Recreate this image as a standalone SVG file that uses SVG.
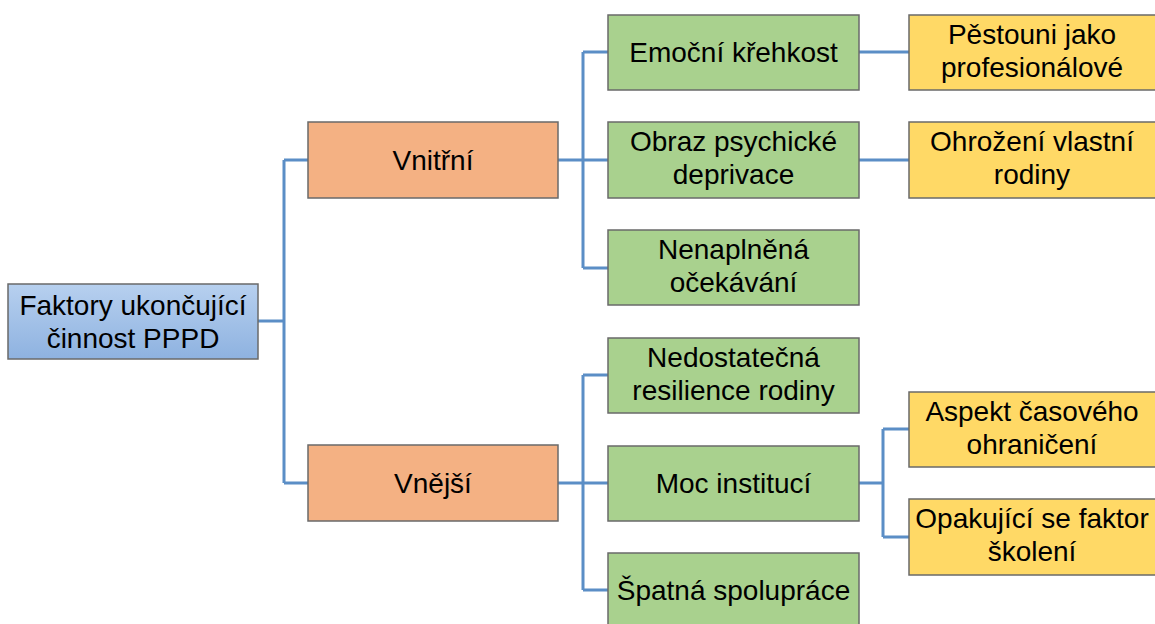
<svg xmlns="http://www.w3.org/2000/svg" width="1155" height="624" viewBox="0 0 1155 624">
<defs>
<linearGradient id="gb" x1="0" y1="0" x2="0" y2="1">
<stop offset="0" stop-color="#b7d0ef"/>
<stop offset="1" stop-color="#8eb2e0"/>
</linearGradient>
</defs>
<style>
.n{stroke:#6a6a6a;stroke-width:1.5}
.root{fill:url(#gb)}
.o{fill:#f4b183}
.g{fill:#a9d18e}
.y{fill:#ffd966}
text{font-family:"Liberation Sans",Arial,sans-serif;font-size:28px;fill:#000;text-anchor:middle}
#connectors path{fill:none;stroke:#5b8ec6;stroke-width:3}
</style>
<rect width="1155" height="624" fill="#fff"/>
<g id="connectors">
<path d="M258,321 H284 M284,160 V483 M284,160 H308 M284,483 H308"/>
<path d="M558,160 H608 M583,52 V268 M583,52 H608 M583,268 H608"/>
<path d="M558,483 H608 M583,375 V590 M583,375 H608 M583,590 H608"/>
<path d="M859,52 H909 M859,160 H909"/>
<path d="M859,483 H883 M883,429 V537 M883,429 H909 M883,537 H909"/>
</g>
<g id="root"><rect class="n root" x="8" y="284" width="250" height="75"/><text x="133" y="315">Faktory ukončující</text><text x="133" y="347.5">činnost PPPD</text></g>
<g id="vnitrni"><rect class="n o" x="308" y="122" width="250" height="76"/><text x="433" y="170">Vnitřní</text></g>
<g id="vnejsi"><rect class="n o" x="308" y="445" width="250" height="76"/><text x="433" y="493">Vnější</text></g>
<g id="emocni"><rect class="n g" x="608" y="15" width="251" height="75"/><text x="733.5" y="62">Emoční křehkost</text></g>
<g id="obraz"><rect class="n g" x="608" y="122" width="251" height="76"/><text x="733.5" y="151">Obraz psychické</text><text x="733.5" y="183.5">deprivace</text></g>
<g id="nenaplnena"><rect class="n g" x="608" y="230" width="251" height="75"/><text x="733.5" y="259">Nenaplněná</text><text x="733.5" y="291.5">očekávání</text></g>
<g id="nedostatecna"><rect class="n g" x="608" y="338" width="251" height="75"/><text x="733.5" y="367">Nedostatečná</text><text x="733.5" y="399.5">resilience rodiny</text></g>
<g id="moc"><rect class="n g" x="608" y="446" width="251" height="75"/><text x="733.5" y="493">Moc institucí</text></g>
<g id="spatna"><rect class="n g" x="608" y="553" width="251" height="75"/><text x="733.5" y="600">Špatná spolupráce</text></g>
<g id="pestouni"><rect class="n y" x="909" y="15" width="250" height="75"/><text x="1032" y="44">Pěstouni jako</text><text x="1032" y="76.5">profesionálové</text></g>
<g id="ohrozeni"><rect class="n y" x="909" y="122" width="250" height="76"/><text x="1032" y="151">Ohrožení vlastní</text><text x="1032" y="183.5">rodiny</text></g>
<g id="aspekt"><rect class="n y" x="909" y="392" width="250" height="75"/><text x="1032" y="421">Aspekt časového</text><text x="1032" y="453.5">ohraničení</text></g>
<g id="opakujici"><rect class="n y" x="909" y="499" width="250" height="76"/><text x="1032" y="528">Opakující se faktor</text><text x="1032" y="560.5">školení</text></g>
</svg>
